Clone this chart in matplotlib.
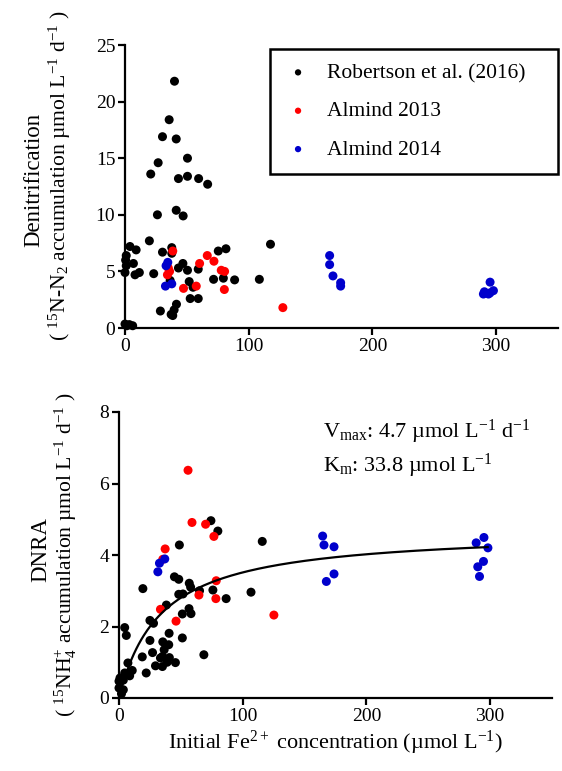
import numpy as np
import matplotlib
matplotlib.use("Agg")
import matplotlib.pyplot as plt

plt.rcParams["font.family"] = ["Liberation Serif", "DejaVu Serif"]
plt.rcParams["mathtext.fontset"] = "custom"
plt.rcParams["mathtext.rm"] = "Liberation Serif"
plt.rcParams["mathtext.it"] = "Liberation Serif:italic"
plt.rcParams["mathtext.bf"] = "Liberation Serif:bold"

# ---- denitrification panel (x: Fe2+ umol/L, y: rate) ----
rob_top = [(40, 21.8), (35.7, 18.4), (30.3, 16.9), (41.4, 16.7), (26.8, 14.6), (20.8, 13.6),
           (50.5, 15.0), (43.2, 13.2), (50.5, 13.4), (59.5, 13.2), (66.8, 12.7), (26.2, 10.0),
           (41.4, 10.4), (47, 9.9), (19.7, 7.7), (117.6, 7.4), (4, 7.2), (9, 6.9), (1, 6.4),
           (0.5, 6.0), (6.8, 5.7), (1, 5.5), (0, 4.9), (8.1, 4.7), (11.6, 4.9), (23.2, 4.8),
           (30.3, 6.7), (37.8, 7.1), (37.8, 6.6), (43.2, 5.3), (46.8, 5.7), (50.5, 5.1),
           (59.2, 5.2), (75.4, 6.8), (81.6, 7.0), (71.6, 4.3), (79.5, 4.4), (88.6, 4.25),
           (108.6, 4.3), (36.5, 4.2), (51.9, 4.1), (55, 3.6), (52.7, 2.6), (59.2, 2.6),
           (28.6, 1.5), (41.6, 2.1), (39.7, 1.6), (37.3, 1.2), (38.6, 1.1), (0, 0.35),
           (3.5, 0.3), (6.2, 0.2), (1.5, 0.2)]
alm13_top = [(38.6, 6.8), (35, 5.3), (36, 5.0), (34.3, 4.7), (47.3, 3.5), (60.3, 5.7),
             (57.6, 3.7), (66.5, 6.4), (71.9, 5.9), (77.8, 5.1), (80.5, 5.0), (80.3, 3.4),
             (127.6, 1.8)]
alm14_top = [(34.6, 5.8), (33.2, 5.5), (32.7, 3.7), (37.8, 3.9), (165.4, 6.4), (165.4, 5.6),
             (168.1, 4.6), (174.3, 4.0), (174.3, 3.7), (295.1, 4.05), (290.5, 3.2),
             (297.8, 3.3), (293.8, 3.0), (289.7, 3.0), (295, 3.1)]

# ---- DNRA panel ----
rob_bot = [(74.3, 4.96), (79.9, 4.67), (115.8, 4.38), (48.8, 4.28), (44.8, 3.39), (48.3, 3.32),
           (56.8, 3.21), (57.9, 3.1), (48.3, 2.9), (51.7, 2.91), (19.3, 3.06), (75.9, 3.02),
           (65.1, 3.0), (86.6, 2.78), (106.7, 2.96), (38.3, 2.6), (56.6, 2.5), (51.2, 2.35),
           (58.2, 2.36), (25, 2.17), (27.9, 2.09), (4.6, 1.97), (5.9, 1.75), (40.5, 1.81),
           (51.2, 1.68), (35.4, 1.57), (25, 1.61), (40.2, 1.49), (36.5, 1.35), (27.1, 1.27),
           (35.1, 1.16), (18.8, 1.15), (33.5, 1.12), (40.7, 1.13), (45.6, 0.99), (38.9, 1.0),
           (29.5, 0.9), (35.1, 0.88), (68.6, 1.21), (22, 0.7), (7.2, 0.98), (10.7, 0.77),
           (8.6, 0.62), (4.6, 0.7), (0.8, 0.56), (0, 0.47), (3.5, 0.5), (0, 0.28),
           (3.5, 0.23), (2, 0.12)]
alm13_bot = [(55.8, 6.37), (59, 4.91), (70, 4.86), (76.7, 4.52), (37.3, 4.17), (35.4, 3.88),
             (78.6, 3.28), (64.6, 2.88), (78.3, 2.78), (33.5, 2.48), (46.1, 2.15), (125.2, 2.32)]
alm14_bot = [(37, 3.89), (32.7, 3.77), (31.4, 3.53), (164.6, 4.53), (165.7, 4.28), (173.8, 4.23),
             (173.8, 3.47), (167.6, 3.26), (295, 4.49), (288.7, 4.34), (298.2, 4.2),
             (294.6, 3.82), (290, 3.67), (291.4, 3.4)]

VMAX, KM = 4.7, 33.8
LABELS = ["Robertson et al. (2016)", "Almind 2013", "Almind 2014"]
COLS = ["black", "#ff0000", "#0000cc"]

fig = plt.figure(figsize=(5.62, 7.71), dpi=100)
ax1 = fig.add_axes([125 / 562, 1 - 328 / 771, 433 / 562, 283 / 771])
ax2 = fig.add_axes([119 / 562, 1 - 698 / 771, 433 / 562, 286 / 771])


def style(a):
    for s in ("top", "right"):
        a.spines[s].set_visible(False)
    for s in ("left", "bottom"):
        a.spines[s].set_linewidth(1.6)
    a.tick_params(direction="out", length=5, width=1.6, labelsize=14, pad=2)
    a.set_xlim(0, 350)
    a.set_xticks([0, 100, 200, 300])


for a, sets in [(ax1, [rob_top, alm13_top, alm14_top]), (ax2, [rob_bot, alm13_bot, alm14_bot])]:
    for pts, c, lab in zip(sets, COLS, LABELS):
        p = np.array(pts)
        a.scatter(p[:, 0], p[:, 1], s=42, color=c, edgecolors="none", label=lab,
                  clip_on=False, zorder=3)
    style(a)

ax1.set_ylim(0, 25)
ax1.set_yticks(range(0, 26, 5))
ax2.set_ylim(0, 8)
ax2.set_yticks(range(0, 9, 2))

xx = np.linspace(0, 298, 300)
ax2.plot(xx, VMAX * xx / (KM + xx), color="black", lw=1.6, zorder=4)

leg = ax1.legend(loc="upper left", bbox_to_anchor=(0.335, 0.54, 0.665, 0.446), mode="expand",
                 borderaxespad=0, fontsize=15.5, markerscale=0.7, handletextpad=0.7,
                 labelspacing=0.85, borderpad=0.65, fancybox=False, framealpha=1,
                 edgecolor="black", handlelength=1.3)
leg.get_frame().set_linewidth(1.8)

ax2.text(0.47, 0.93, r"V$_{\mathrm{max}}$: 4.7 µmol L$^{\mathrm{-1}}$ d$^{\mathrm{-1}}$",
         transform=ax2.transAxes, fontsize=16, va="center")
ax2.text(0.47, 0.81, r"K$_{\mathrm{m}}$: 33.8 µmol L$^{\mathrm{-1}}$",
         transform=ax2.transAxes, fontsize=16, va="center")

fig.text(34 / 562, 1 - 180 / 771, "Denitrification", rotation=90, ha="center", va="center",
         fontsize=16.5)
fig.text(60 / 562, 1 - 176 / 771,
         r"( $^{\mathrm{15}}$N-N$_{\mathrm{2}}$ accumulation µmol L$^{\mathrm{-1}}$ d$^{\mathrm{-1}}$ )",
         rotation=90, ha="center", va="center", fontsize=15.6)
fig.text(41 / 562, 1 - 550 / 771, "DNRA", rotation=90, ha="center", va="center", fontsize=16.5)
fig.text(66 / 562, 1 - 555 / 771,
         r"( $^{\mathrm{15}}$NH$_{\mathrm{4}}^{\mathrm{+}}$ accumulation µmol L$^{\mathrm{-1}}$ d$^{\mathrm{-1}}$ )",
         rotation=90, ha="center", va="center", fontsize=15.6)
ax2.set_xlabel(r"Initial Fe$^{\mathrm{2+}}$ concentration (µmol L$^{\mathrm{-1}}$)",
               fontsize=16, labelpad=3)

fig.savefig("out.png", dpi=100)
